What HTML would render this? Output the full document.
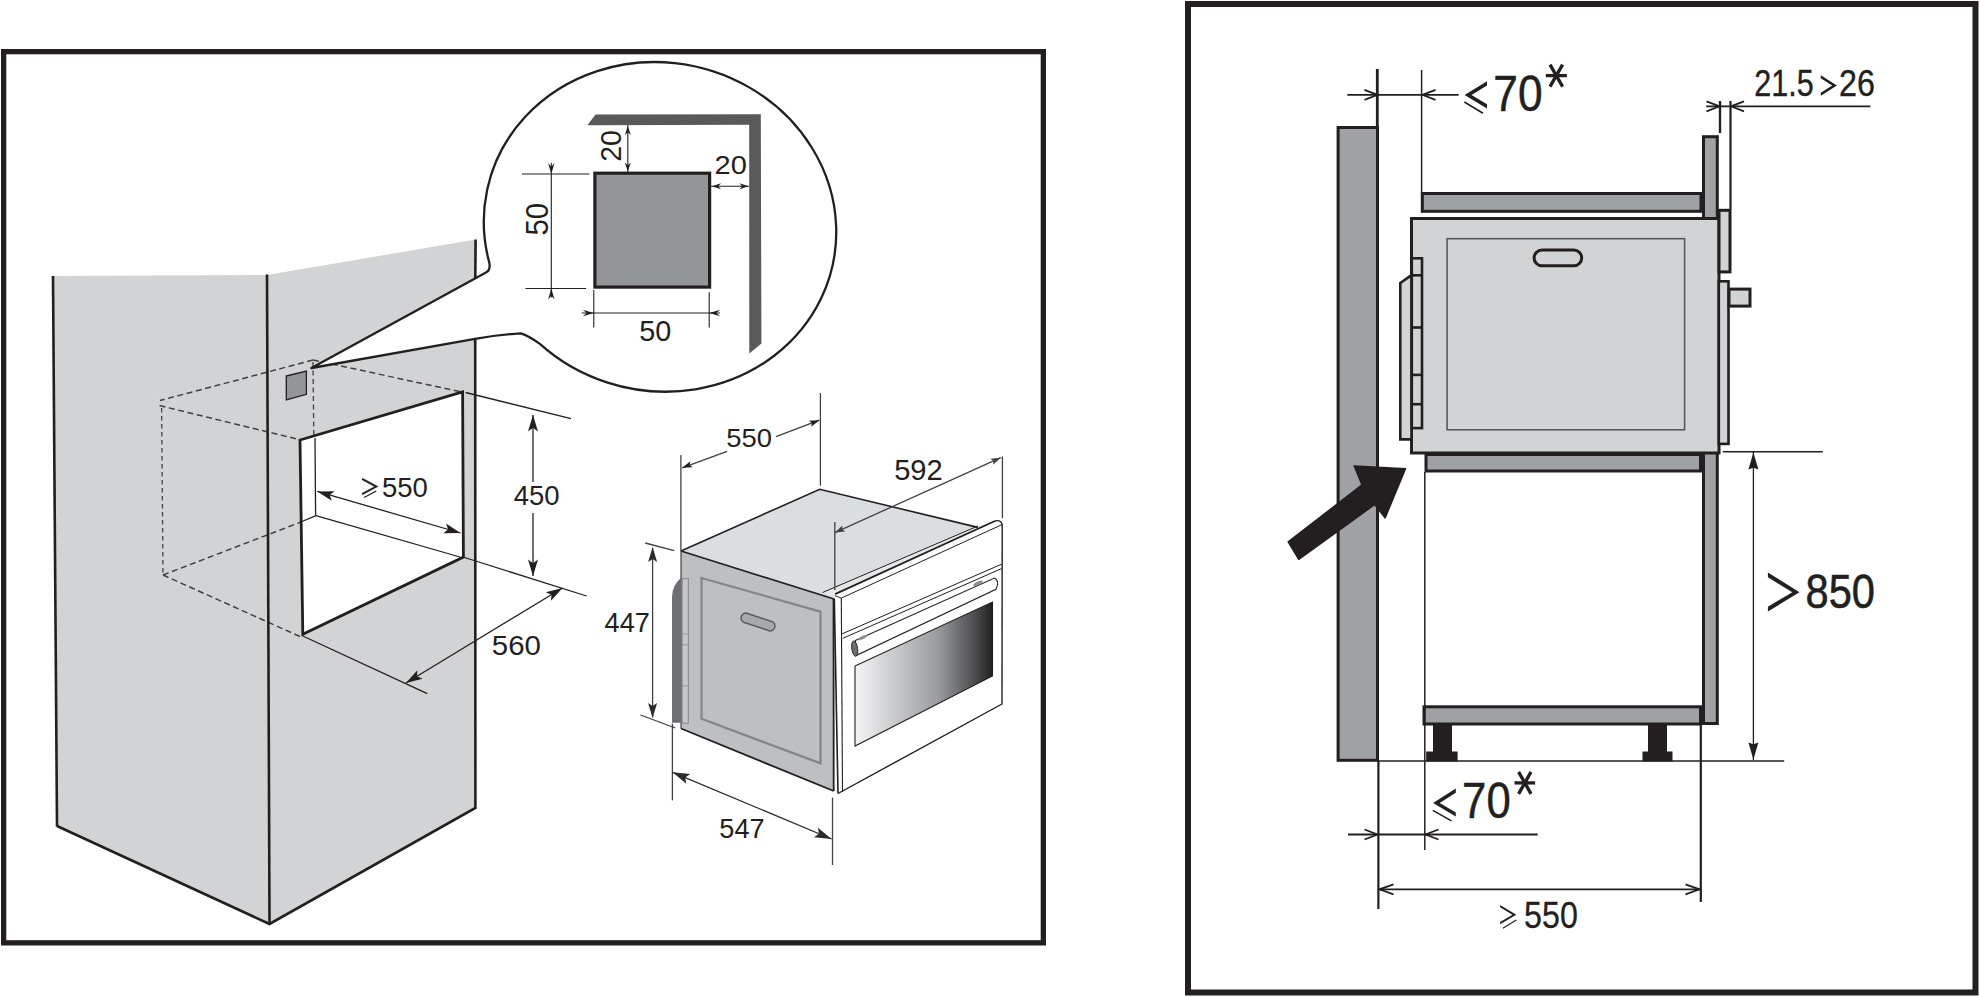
<!DOCTYPE html>
<html><head><meta charset="utf-8"><style>
html,body{margin:0;padding:0;background:#fff;width:1980px;height:997px;overflow:hidden}
svg{display:block}
text{font-family:"Liberation Sans",sans-serif}
</style></head><body>
<svg width="1980" height="997" viewBox="0 0 1980 997">
<rect width="1980" height="997" fill="#fff"/>
<rect x="3.65" y="51.65" width="1039.7" height="891.2" fill="none" stroke="#231f20" stroke-width="5.3" />
<polygon points="53,276 267,275 269.5,924 57,826" fill="#d1d3d4" />
<polygon points="267,275 475.6,239.5 475.4,808 269.5,924" fill="#d1d3d4" />
<polygon points="300,440 462.6,391.8 463.4,557 302.8,634.3" fill="#fff" />
<line x1="313" y1="360" x2="160" y2="400.5" stroke="#414042" stroke-width="1.5" stroke-dasharray="6 3.6"/>
<line x1="159.5" y1="405.6" x2="299" y2="439.5" stroke="#414042" stroke-width="1.5" stroke-dasharray="6 3.6"/>
<line x1="161.6" y1="408" x2="163" y2="575" stroke="#414042" stroke-width="1.3" stroke-dasharray="4.5 3.5"/>
<line x1="163" y1="575" x2="301" y2="522" stroke="#414042" stroke-width="1.5" stroke-dasharray="6 3.6"/>
<line x1="163" y1="575" x2="301" y2="637" stroke="#414042" stroke-width="1.5" stroke-dasharray="6 3.6"/>
<line x1="313" y1="360" x2="462" y2="392" stroke="#414042" stroke-width="1.5" stroke-dasharray="6 3.6"/>
<line x1="313" y1="362" x2="313.8" y2="436" stroke="#414042" stroke-width="1.3" stroke-dasharray="5 3.5"/>
<polygon points="286.3,376 306.4,371 306.4,394.3 286.3,400" fill="#939598" stroke="#231f20" stroke-width="1.3" />
<line x1="315" y1="438" x2="315.6" y2="515.6" stroke="#231f20" stroke-width="1.3" />
<line x1="302" y1="521.5" x2="316" y2="515.6" stroke="#231f20" stroke-width="1.3" />
<line x1="316" y1="515.6" x2="460" y2="557" stroke="#231f20" stroke-width="1.3" />
<line x1="53" y1="276" x2="57" y2="826.5" stroke="#231f20" stroke-width="2.6" />
<polyline points="57,826 269.5,924 475.4,808 475.2,338.8" fill="none" stroke="#231f20" stroke-width="2.6" stroke-linejoin="miter"/>
<line x1="267" y1="274.5" x2="269.5" y2="924" stroke="#231f20" stroke-width="2.6" />
<line x1="475.6" y1="239.5" x2="475.3" y2="279" stroke="#231f20" stroke-width="2.6" />
<polygon points="300,440 462.6,391.8 463.4,557 302.8,634.3" fill="none" stroke="#231f20" stroke-width="2.8" stroke-linejoin="miter"/>
<line x1="317.3" y1="491.4" x2="460.5" y2="533" stroke="#231f20" stroke-width="1.3" />
<polygon points="460.5,533 443.26,533.2 448.14,529.41 446.05,523.6" fill="#231f20" />
<polygon points="317.3,491.4 334.54,491.2 329.66,494.99 331.75,500.8" fill="#231f20" />
<line x1="465.6" y1="392.5" x2="571" y2="418.6" stroke="#231f20" stroke-width="1.3" />
<line x1="463" y1="557" x2="586.6" y2="596" stroke="#231f20" stroke-width="1.3" />
<line x1="533" y1="415" x2="533" y2="482" stroke="#231f20" stroke-width="1.3" />
<line x1="533" y1="513" x2="533" y2="576" stroke="#231f20" stroke-width="1.3" />
<polygon points="533,415 538,431.5 533,427.87 528,431.5" fill="#231f20" />
<polygon points="533,576 528,559.5 533,563.13 538,559.5" fill="#231f20" />
<line x1="405.9" y1="683" x2="562.5" y2="588" stroke="#231f20" stroke-width="1.3" />
<polygon points="562.5,588 550.99,600.83 551.5,594.68 545.8,592.28" fill="#231f20" />
<polygon points="405.9,683 417.41,670.17 416.9,676.32 422.6,678.72" fill="#231f20" />
<line x1="302.8" y1="636" x2="427.3" y2="693.7" stroke="#231f20" stroke-width="1.3" />
<path d="M 311.4 368 L 486 272.6 Q 490.8 270 489.29 262.62 A 176.81 164.22 12.61 1 1 539.9 343.86 Q 528 335.5 521 333.4 Q 500 334.6 475 338.8 Z" fill="#fff" stroke="#231f20" stroke-width="2.3" stroke-linejoin="round"/>
<polygon points="595.4,114.6 760.8,114.3 761.4,343.4 749.3,353.5 749.2,124.8 587.4,125.2" fill="#58595b" />
<rect x="594.9" y="173.2" width="114.7" height="113.9" fill="#939598" stroke="#231f20" stroke-width="3.2" />
<line x1="522" y1="174" x2="589.5" y2="174" stroke="#231f20" stroke-width="1.1" />
<line x1="525.5" y1="288.5" x2="586" y2="288.5" stroke="#231f20" stroke-width="1.1" />
<line x1="551.3" y1="163" x2="551.3" y2="297.6" stroke="#231f20" stroke-width="1.1" />
<polygon points="551.3,174 548.1,163 551.3,166.85 554.5,163" fill="#231f20" />
<polygon points="551.3,288.5 554.5,299.5 551.3,295.65 548.1,299.5" fill="#231f20" />
<text transform="translate(547.8,235.47) rotate(-90) scale(0.9613,1)" font-size="30.51" fill="#231f20">50</text>
<line x1="627.8" y1="125" x2="627.8" y2="172" stroke="#231f20" stroke-width="1.1" />
<polygon points="627.8,126 630.8,135 627.8,132.3 624.8,135" fill="#231f20" />
<polygon points="627.8,171.5 624.8,162.5 627.8,165.2 630.8,162.5" fill="#231f20" />
<text transform="translate(621.21,161.73) rotate(-90) scale(0.9545,1)" font-size="29.80" fill="#231f20">20</text>
<line x1="711" y1="186.3" x2="749" y2="186.3" stroke="#231f20" stroke-width="1.1" />
<polygon points="712,186.3 721,183.3 718.3,186.3 721,189.3" fill="#231f20" />
<polygon points="748.5,186.3 739.5,189.3 742.2,186.3 739.5,183.3" fill="#231f20" />
<text transform="translate(714.54,174.46) scale(1.1614,1)" font-size="25.00" fill="#231f20" >20</text>
<line x1="593.8" y1="290" x2="593.8" y2="327.5" stroke="#231f20" stroke-width="1.1" />
<line x1="709.2" y1="292.3" x2="709.2" y2="327.4" stroke="#231f20" stroke-width="1.1" />
<line x1="581.7" y1="313" x2="720" y2="313" stroke="#231f20" stroke-width="1.1" />
<polygon points="593.8,313 582.8,316.2 586.65,313 582.8,309.8" fill="#231f20" />
<polygon points="709.2,313 720.2,309.8 716.35,313 720.2,316.2" fill="#231f20" />
<text transform="translate(639.25,340.52) scale(1.0059,1)" font-size="28.67" fill="#231f20" >50</text>
<text transform="translate(382,497.43) scale(0.9932,1)" font-size="27.68" fill="#231f20" >550</text>
<text transform="translate(513.67,504.74) scale(1.0253,1)" font-size="26.84" fill="#231f20" >450</text>
<text transform="translate(491.82,654.62) scale(1.0372,1)" font-size="28.39" fill="#231f20" >560</text>
<polygon points="681,551 819.7,489.3 985,529 834,599" fill="#dadee0" />
<polygon points="681,551 834,599 833.7,791 681,728.5" fill="#bcc0c3" />
<defs><linearGradient id="win" x1="0" x2="1" y1="0" y2="0"><stop offset="0" stop-color="#f4f4f5"/><stop offset="0.6" stop-color="#9a9c9f"/><stop offset="0.87" stop-color="#4d4d4f"/><stop offset="1" stop-color="#231f20"/></linearGradient></defs>
<polygon points="822.6,592.5 978,526 995,521 835.1,594.1 834.3,598.5" fill="#e6e7e8" />
<line x1="822.6" y1="592.5" x2="978" y2="526" stroke="#231f20" stroke-width="1" />
<polygon points="834.3,598.5 835.1,594.1 995,521 1002.2,524 1002,704 838,793.5" fill="#fff" />
<line x1="835.1" y1="594.1" x2="995" y2="521" stroke="#231f20" stroke-width="1.8" />
<path d="M 995 521 Q 1000.5 519.5 1002.2 524.5" fill="none" stroke="#231f20" stroke-width="1.4"/>
<line x1="1002.2" y1="524" x2="1002" y2="704.5" stroke="#231f20" stroke-width="1.4" />
<line x1="1002" y1="704" x2="838" y2="793.5" stroke="#231f20" stroke-width="1.4" />
<line x1="834.3" y1="598.5" x2="838" y2="793.5" stroke="#231f20" stroke-width="1.6" />
<polyline points="835.1,595.7 841.3,598.1 1002,524.6" fill="none" stroke="#231f20" stroke-width="1" />
<line x1="841.3" y1="598.1" x2="842.5" y2="792" stroke="#231f20" stroke-width="1.1" />
<line x1="842" y1="633.9" x2="1001.5" y2="564.2" stroke="#231f20" stroke-width="1" />
<line x1="842.7" y1="638.4" x2="1001.5" y2="568.6" stroke="#231f20" stroke-width="1" />
<path d="M 855.4 640.5 L 994.5 578 Q 1000 581 996 589.3 L 856 655.6 Z" fill="#fff" stroke="#231f20" stroke-width="1.1"/>
<ellipse cx="978" cy="583.3" rx="5" ry="1.6" transform="rotate(-25 978 583.3)" fill="#8a8c8f"/>
<ellipse cx="862.5" cy="637.6" rx="5" ry="1.6" transform="rotate(-25 862.5 637.6)" fill="#8a8c8f"/>
<ellipse cx="854.7" cy="648.6" rx="2.9" ry="7.7" transform="rotate(-8 854.7 648.6)" fill="#6d6e71" stroke="#231f20" stroke-width="0.9"/>
<polygon points="855,666 992.5,602 992.5,676 855,746" fill="url(#win)" stroke="#231f20" stroke-width="1.1" />
<polyline points="681,551 819.7,489.3 977.8,527.4" fill="none" stroke="#231f20" stroke-width="1.6" />
<line x1="681" y1="551" x2="834" y2="599" stroke="#231f20" stroke-width="1.6" />
<polyline points="681,728.5 833.7,791" fill="none" stroke="#231f20" stroke-width="1.8" />
<line x1="681" y1="551" x2="681" y2="728.5" stroke="#231f20" stroke-width="1" />
<line x1="833.5" y1="599" x2="833.7" y2="791" stroke="#231f20" stroke-width="1.8" />
<polygon points="701.5,578 820.5,611.7 820.5,763.4 701.5,718.8" fill="none" stroke="#82868a" stroke-width="2.2" />
<path d="M 746 613 L 770 621 A 5 5 0 0 1 770 631 L 746 623 A 5 5 0 0 1 746 613 Z" fill="#a7a9ac" stroke="#58595b" stroke-width="1.4"/>
<path d="M 682 577 Q 672 585 672 597 L 672 722.7 L 682 722.7 Z" fill="#6d6e71"/>
<rect x="682.2" y="578.6" width="6.2" height="144.6" fill="#c5c7ca" stroke="#8e9194" stroke-width="1.2" />
<line x1="682" y1="634" x2="689" y2="634" stroke="#939598" stroke-width="1" />
<line x1="682" y1="644.8" x2="689" y2="644.8" stroke="#939598" stroke-width="1" />
<line x1="682" y1="685.9" x2="689" y2="685.9" stroke="#939598" stroke-width="1" />
<line x1="680.9" y1="454.9" x2="680.9" y2="551" stroke="#414042" stroke-width="1.3" />
<line x1="820.4" y1="393" x2="820.4" y2="485.6" stroke="#414042" stroke-width="1.3" />
<line x1="682.2" y1="467.8" x2="727.1" y2="451.3" stroke="#414042" stroke-width="1.3" />
<line x1="776" y1="436.7" x2="819.4" y2="420.2" stroke="#414042" stroke-width="1.3" />
<polygon points="682.2,467.8 690.36,461.15 689.67,464.95 692.72,467.31" fill="#231f20" />
<polygon points="819.4,420.2 811.2,426.81 811.91,423.02 808.88,420.63" fill="#231f20" />
<text transform="translate(726.2,446.95) scale(1.0672,1)" font-size="25.71" fill="#231f20" >550</text>
<line x1="1002.4" y1="456.4" x2="1002.4" y2="518.2" stroke="#414042" stroke-width="1.3" />
<line x1="834.8" y1="522" x2="834.8" y2="590" stroke="#414042" stroke-width="1.3" />
<line x1="834.8" y1="532.6" x2="1000.8" y2="457.7" stroke="#414042" stroke-width="1.3" />
<polygon points="1000.8,457.7 993.04,464.82 993.51,460.99 990.33,458.8" fill="#414042" />
<polygon points="834.8,532.6 842.56,525.48 842.09,529.31 845.27,531.5" fill="#414042" />
<text transform="translate(894.13,479.92) scale(1.0067,1)" font-size="28.95" fill="#231f20" >592</text>
<line x1="652.6" y1="547.9" x2="652.6" y2="717.4" stroke="#414042" stroke-width="1.3" />
<polygon points="652.6,547 657.1,562 652.6,559 648.1,562" fill="#2d2a2b" />
<polygon points="652.6,718 648.1,703 652.6,706 657.1,703" fill="#2d2a2b" />
<line x1="645.2" y1="543" x2="674.2" y2="550.6" stroke="#414042" stroke-width="1.3" />
<line x1="640.5" y1="715" x2="675.3" y2="728" stroke="#414042" stroke-width="1.3" />
<text transform="translate(604.58,632.1) scale(0.9577,1)" font-size="28.34" fill="#231f20" >447</text>
<line x1="672.4" y1="723.7" x2="672.4" y2="800.4" stroke="#414042" stroke-width="1.3" />
<line x1="832.5" y1="797.6" x2="832.5" y2="865" stroke="#414042" stroke-width="1.3" />
<line x1="672.6" y1="772.3" x2="831.6" y2="839" stroke="#2d2a2b" stroke-width="1.3" />
<polygon points="831.6,839 813.91,837.22 819.06,833.74 817.94,827.63" fill="#2d2a2b" />
<polygon points="672.6,772.3 690.29,774.08 685.14,777.56 686.26,783.67" fill="#2d2a2b" />
<text transform="translate(719.31,838.04) scale(1.0013,1)" font-size="27.09" fill="#231f20" >547</text>
<rect x="1188" y="4" width="787.5" height="988.5" fill="none" stroke="#231f20" stroke-width="6" />
<rect x="1338.1" y="127.5" width="39.4" height="632.8" fill="#a0a1a4" stroke="#231f20" stroke-width="3" />
<line x1="1377.3" y1="69" x2="1377.3" y2="127" stroke="#231f20" stroke-width="2.8" />
<rect x="1422.3" y="193.5" width="278.7" height="17.8" fill="#a0a1a4" stroke="#231f20" stroke-width="3" />
<rect x="1703.5" y="136.7" width="13.8" height="586.8" fill="#a0a1a4" stroke="#231f20" stroke-width="3" />
<rect x="1426" y="454.5" width="274.5" height="16.5" fill="#a0a1a4" stroke="#231f20" stroke-width="3" />
<rect x="1424" y="706.8" width="276.5" height="17.2" fill="#a0a1a4" stroke="#231f20" stroke-width="3" />
<polygon points="1433,724 1452,724 1452,751.6 1457.6,751.6 1457.6,761.5 1426.2,761.5 1426.2,751.6 1433,751.6" fill="#231f20" />
<polygon points="1648,724 1667,724 1667,751.6 1672.5,751.6 1672.5,761.5 1642.5,761.5 1642.5,751.6 1648,751.6" fill="#231f20" />
<rect x="1411.5" y="218.5" width="307.5" height="234.5" fill="#d1d3d4" stroke="#231f20" stroke-width="3" />
<rect x="1447.1" y="238.7" width="237.5" height="191.1" fill="none" stroke="#58595b" stroke-width="1.6" />
<rect x="1534.1" y="250.1" width="47.6" height="15.7" rx="7.85" fill="#d1d3d4" stroke="#231f20" stroke-width="3"/>
<polygon points="1400.3,283 1409.8,276.4 1411.5,276.4 1411.5,439.4 1400.3,439.4" fill="#d1d3d4" stroke="#231f20" stroke-width="2.6" />
<rect x="1411.8" y="258.3" width="10.2" height="169.8" fill="#d1d3d4" stroke="#231f20" stroke-width="2.6" />
<line x1="1411" y1="275.3" x2="1422.5" y2="275.3" stroke="#231f20" stroke-width="2.6" />
<line x1="1411" y1="327.5" x2="1422.5" y2="327.5" stroke="#231f20" stroke-width="2.6" />
<line x1="1411" y1="374.9" x2="1422.5" y2="374.9" stroke="#231f20" stroke-width="2.6" />
<line x1="1411" y1="404.2" x2="1422.5" y2="404.2" stroke="#231f20" stroke-width="2.6" />
<rect x="1719" y="210.3" width="11" height="61.6" fill="#d1d3d4" stroke="#231f20" stroke-width="3" />
<rect x="1718.8" y="281.3" width="9.7" height="162.6" fill="#d1d3d4" stroke="#231f20" stroke-width="2.6" />
<rect x="1729" y="289.1" width="21" height="17" fill="#d1d3d4" stroke="#231f20" stroke-width="3" />
<line x1="1424.8" y1="472" x2="1424.8" y2="850" stroke="#231f20" stroke-width="1.5" />
<line x1="1347.3" y1="94.8" x2="1458.7" y2="94.8" stroke="#231f20" stroke-width="1.8" />
<polyline points="1364.5,99.8 1377.5,94.8 1364.5,89.8" fill="none" stroke="#231f20" stroke-width="1.8" stroke-linejoin="miter" stroke-linecap="butt"/>
<polyline points="1435.5,89.8 1422.5,94.8 1435.5,99.8" fill="none" stroke="#231f20" stroke-width="1.8" stroke-linejoin="miter" stroke-linecap="butt"/>
<line x1="1421.6" y1="70" x2="1421.6" y2="192" stroke="#231f20" stroke-width="1.5" />
<line x1="1706.2" y1="106.3" x2="1870.4" y2="106.3" stroke="#231f20" stroke-width="1.8" />
<line x1="1720" y1="101" x2="1720" y2="133" stroke="#231f20" stroke-width="2.4" />
<line x1="1730.5" y1="101" x2="1730.5" y2="209" stroke="#231f20" stroke-width="2.2" />
<polyline points="1706.5,111.3 1719.5,106.3 1706.5,101.3" fill="none" stroke="#231f20" stroke-width="1.8" stroke-linejoin="miter" stroke-linecap="butt"/>
<polyline points="1744,101.3 1731,106.3 1744,111.3" fill="none" stroke="#231f20" stroke-width="1.8" stroke-linejoin="miter" stroke-linecap="butt"/>
<text transform="translate(1754.37,95.74) scale(0.8204,1)" font-size="37.15" fill="#231f20" stroke="#231f20" stroke-width="0.4">21.5</text>
<text transform="translate(1838.98,95.74) scale(0.8673,1)" font-size="37.15" fill="#231f20" stroke="#231f20" stroke-width="0.4">26</text>
<polygon points="1820.8,75.3 1836.9,85.6 1820.8,95.7 1820.8,92.7 1832.21,85.6 1820.8,78.3" fill="#231f20" />
<line x1="1722.8" y1="451.8" x2="1822.8" y2="451.8" stroke="#231f20" stroke-width="1.6" />
<line x1="1378" y1="761" x2="1784.2" y2="761" stroke="#231f20" stroke-width="1.6" />
<line x1="1753.4" y1="452" x2="1753.4" y2="760" stroke="#231f20" stroke-width="1.3" />
<polygon points="1753.4,452.5 1758.4,469.5 1753.4,467.8 1748.4,469.5" fill="#231f20" />
<polygon points="1753.4,759.5 1748.4,742.5 1753.4,744.2 1758.4,742.5" fill="#231f20" />
<polygon points="1767.9,572.5 1799.5,592.3 1767.9,611.5 1767.9,606.8 1792.3,592.3 1767.9,577.2" fill="#231f20" />
<text transform="translate(1805.49,608.13) scale(0.8692,1)" font-size="47.88" fill="#231f20" stroke="#231f20" stroke-width="0.6">850</text>
<polygon points="1487,81.3 1464.6,94.9 1487,108.5 1487,104.3 1471.52,94.9 1487,85.5" fill="#231f20" />
<line x1="1464.4" y1="102" x2="1483" y2="113.3" stroke="#231f20" stroke-width="1.6" />
<text transform="translate(1493.33,110.71) scale(0.8766,1)" font-size="50.56" fill="#231f20" stroke="#231f20" stroke-width="0.5">70</text>
<line x1="1545.8" y1="75.6" x2="1566.8" y2="75.6" stroke="#231f20" stroke-width="3.3" />
<line x1="1550" y1="64.6" x2="1562.6" y2="86.6" stroke="#231f20" stroke-width="3.3" />
<line x1="1562.6" y1="64.6" x2="1550" y2="86.6" stroke="#231f20" stroke-width="3.3" />
<line x1="1378.4" y1="761" x2="1378.4" y2="909" stroke="#231f20" stroke-width="2.2" />
<line x1="1700.8" y1="725" x2="1700.8" y2="902" stroke="#231f20" stroke-width="2.2" />
<line x1="1348" y1="834.5" x2="1537.7" y2="834.5" stroke="#231f20" stroke-width="1.8" />
<polyline points="1364.5,839.5 1377.5,834.5 1364.5,829.5" fill="none" stroke="#231f20" stroke-width="1.8" stroke-linejoin="miter" stroke-linecap="butt"/>
<polyline points="1438.5,829.5 1425.5,834.5 1438.5,839.5" fill="none" stroke="#231f20" stroke-width="1.8" stroke-linejoin="miter" stroke-linecap="butt"/>
<polygon points="1455.8,788.6 1433.1,803.1 1455.8,816.6 1455.8,812.4 1439.68,803.1 1455.8,792.8" fill="#231f20" />
<line x1="1432.8" y1="810.3" x2="1451.5" y2="820.8" stroke="#231f20" stroke-width="1.5" />
<text transform="translate(1462.06,818.01) scale(0.8650,1)" font-size="50.56" fill="#231f20" stroke="#231f20" stroke-width="0.5">70</text>
<line x1="1514.5" y1="782.9" x2="1535.1" y2="782.9" stroke="#231f20" stroke-width="3.3" />
<line x1="1518.62" y1="771.9" x2="1530.98" y2="793.9" stroke="#231f20" stroke-width="3.3" />
<line x1="1530.98" y1="771.9" x2="1518.62" y2="793.9" stroke="#231f20" stroke-width="3.3" />
<line x1="1378.4" y1="889.3" x2="1700" y2="889.3" stroke="#231f20" stroke-width="1.8" />
<polyline points="1393.5,884.3 1379.5,889.3 1393.5,894.3" fill="none" stroke="#231f20" stroke-width="1.8" stroke-linejoin="miter" stroke-linecap="butt"/>
<polyline points="1685.5,894.3 1699.5,889.3 1685.5,884.3" fill="none" stroke="#231f20" stroke-width="1.8" stroke-linejoin="miter" stroke-linecap="butt"/>
<polygon points="1500.1,904.9 1516.3,914.7 1500.1,924.3 1500.1,922 1512.5,914.7 1500.1,907.2" fill="#231f20" />
<line x1="1502.9" y1="928.3" x2="1516.3" y2="920" stroke="#231f20" stroke-width="1.2" />
<text transform="translate(1524.11,928.25) scale(0.8944,1)" font-size="36.02" fill="#231f20" stroke="#231f20" stroke-width="0.3">550</text>
<polyline points="362.1,478.9 376.3,486.6 362.1,494.2" fill="none" stroke="#231f20" stroke-width="2" />
<line x1="364.1" y1="497.5" x2="376.3" y2="491" stroke="#231f20" stroke-width="1.3" />
<polygon points="1298.8,559.3 1288.2,541.8 1362,484.9 1354.2,466 1405.5,468.8 1385.1,517.9 1374.6,504.6" fill="#231f20" stroke="#231f20" stroke-width="1.5" stroke-linejoin="round"/>
</svg></body></html>
